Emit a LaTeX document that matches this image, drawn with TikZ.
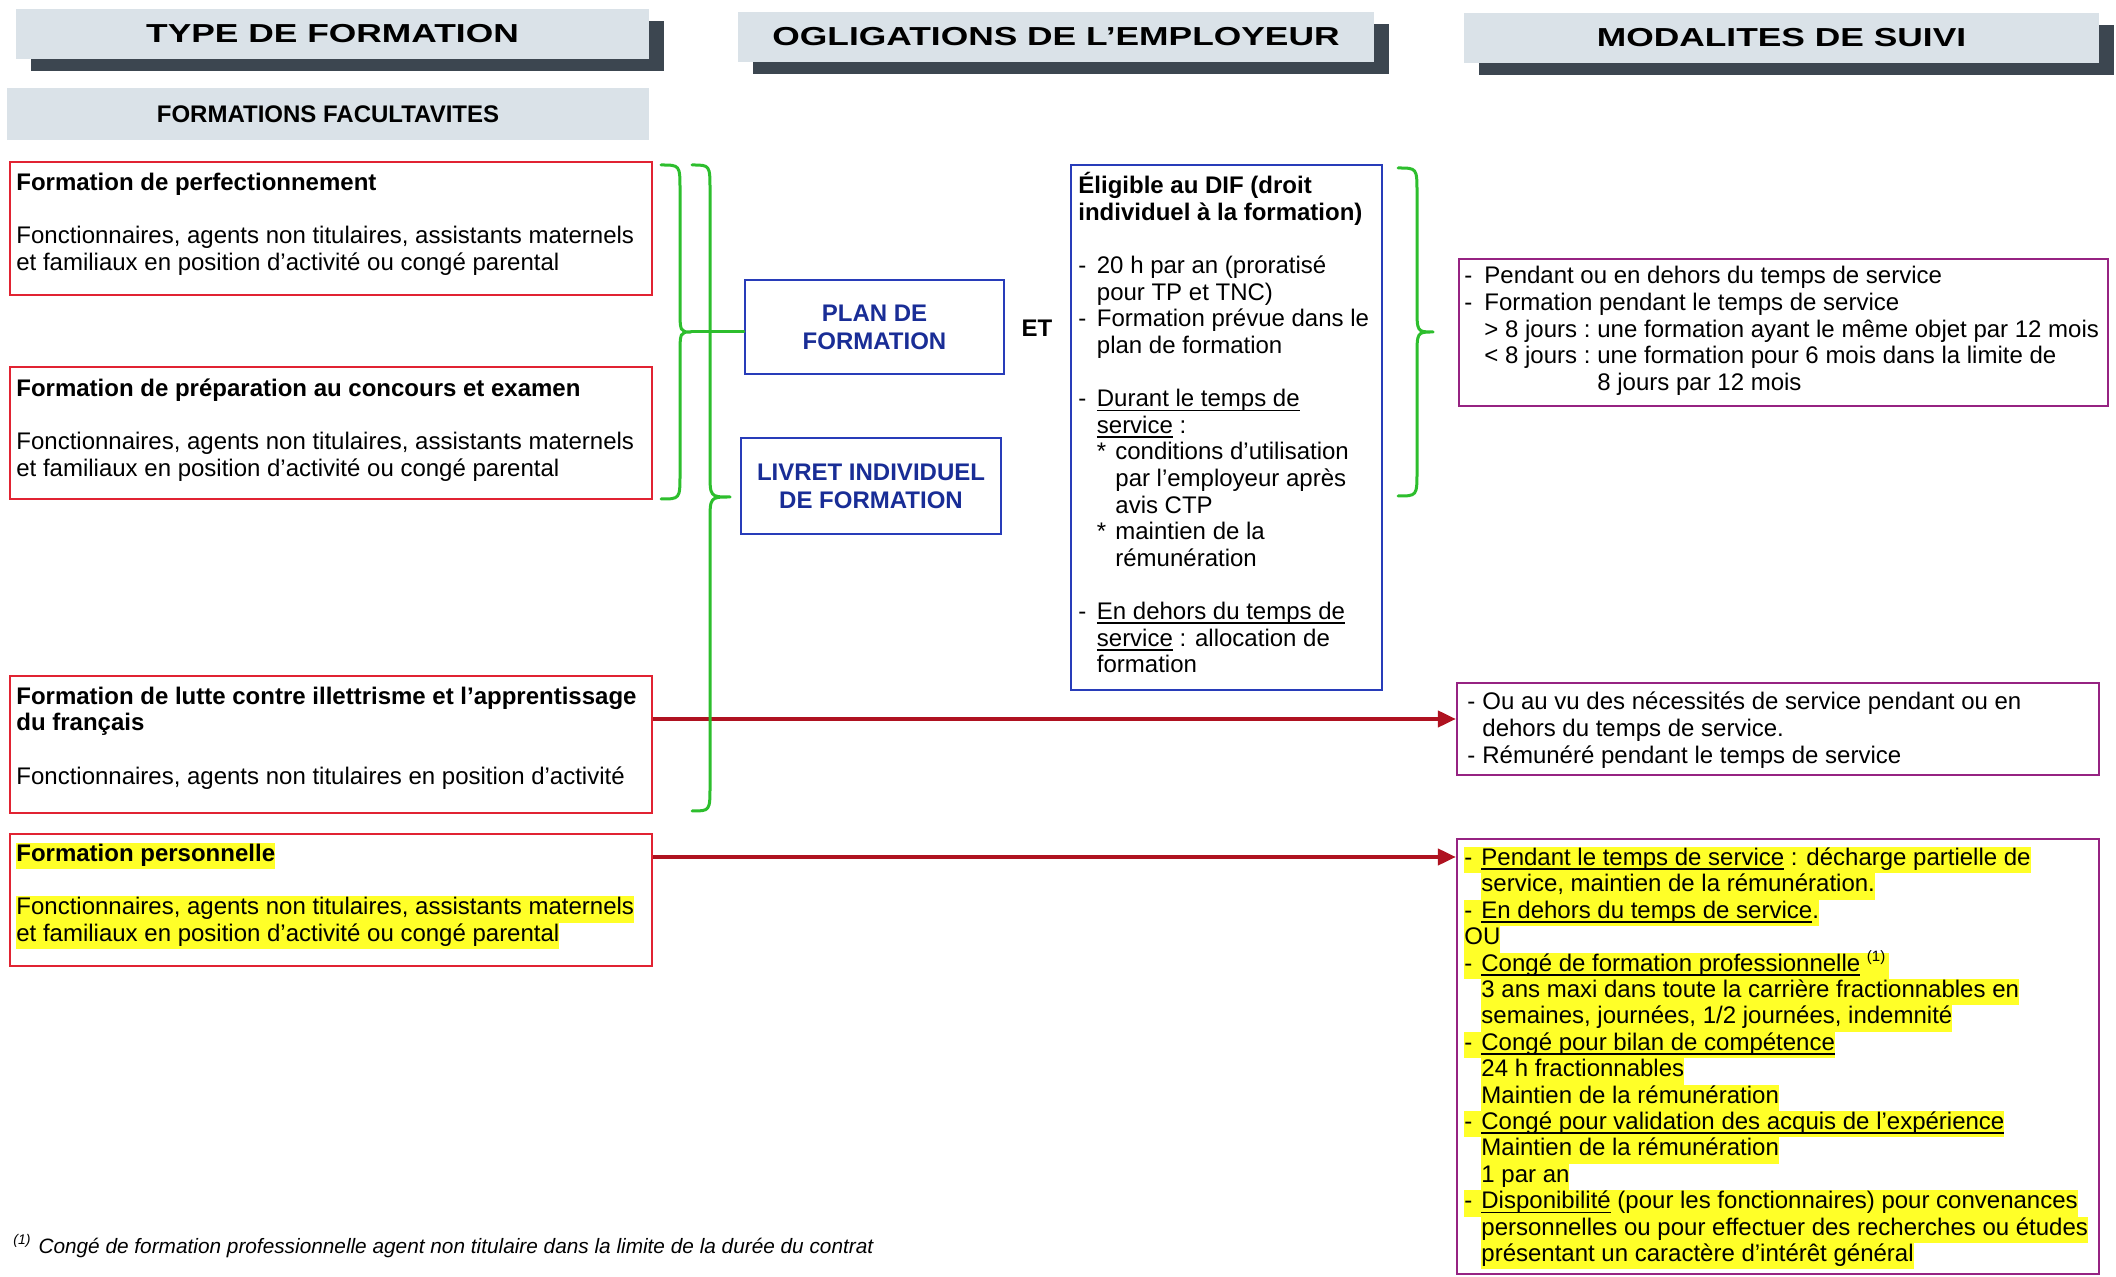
\documentclass[tikz,border=0pt]{standalone}
\usepackage{fontspec}
\setmainfont{Liberation Sans}
\newfontfamily\headfont[FakeStretch=1.36]{Liberation Sans}
\usetikzlibrary{arrows.meta,fit,shadows}
\definecolor{redc}{RGB}{225,35,50}
\definecolor{bluec}{RGB}{40,60,185}
\definecolor{purc}{RGB}{150,35,130}
\definecolor{greenc}{RGB}{45,190,45}
\definecolor{arrc}{RGB}{175,18,32}
\definecolor{btxt}{RGB}{25,45,150}
\definecolor{hdrc}{RGB}{218,226,232}
\definecolor{shadc}{RGB}{60,70,80}
\definecolor{hly}{RGB}{255,255,40}
\newsavebox{\ulbox}
\newcommand{\uln}[1]{\sbox{\ulbox}{#1}\rlap{\rule[-2.3pt]{\wd\ulbox}{0.8pt}}\usebox{\ulbox}}
\newcommand{\hlb}[1]{{\setlength{\fboxsep}{0pt}\colorbox{hly}{\strut#1}}}
\newcommand{\dsh}[1][9pt]{\makebox[#1][l]{-}}
\newcommand{\ind}[1][9pt]{\hspace*{#1}}
\newcommand{\tst}{\rule{0pt}{11pt}}
\newcommand{\supone}{\smash{\raisebox{5pt}{\fontsize{7.5}{8}\selectfont(1)}}}
\begin{document}
\begin{tikzpicture}[x=0.5pt,y=-0.5pt,
  boxr/.style={draw=redc, line width=1.1pt, inner sep=0pt},
  boxb/.style={draw=bluec, line width=1.1pt, inner sep=0pt},
  boxp/.style={draw=purc, line width=1.1pt, inner sep=0pt},
  hdr/.style={fill=hdrc, inner sep=0pt, drop shadow={shadow xshift=7.5pt,shadow yshift=-6pt,opacity=1,fill=shadc}},
  subhdr/.style={fill=hdrc, inner sep=0pt},
  hdrtxt/.style={font=\headfont\bfseries\fontsize{13}{15}\selectfont, inner sep=0pt},
  txt/.style={anchor=north west, inner sep=0pt, align=left, font=\fontsize{12}{13.3}\selectfont},
  bluetxt/.style={font=\bfseries\fontsize{12}{14}\selectfont, text=btxt, align=center, inner sep=0pt},
  gbrace/.style={draw=greenc, line width=1.5pt, line cap=round, line join=round},
  rarrow/.style={draw=arrc, line width=2pt, -{Triangle[length=9pt,width=8pt]}}
]
\fill[white] (0,0) rectangle (2116,1277);
\useasboundingbox (0,0) rectangle (2116,1277);

% headers
\node[hdr, fit={(16,9) (649,59)}] (h1) {};
\node[hdrtxt] (h1t) at (h1.center) {TYPE DE FORMATION};
\node[hdr, fit={(738,12) (1374,62)}] (h2) {};
\node[hdrtxt] (h2t) at (h2.center) {OGLIGATIONS DE L’EMPLOYEUR};
\node[hdr, fit={(1464,13) (2099,63)}] (h3) {};
\node[hdrtxt] (h3t) at (h3.center) {MODALITES DE SUIVI};
\node[subhdr, fit={(7,88) (649,140)}] (sub) {};
\node[font=\bfseries\fontsize{12}{14}\selectfont, inner sep=0pt] (subt) at (sub.center) {FORMATIONS FACULTAVITES};

% left boxes
\node[boxr, fit={(10,162) (652,295)}] (r1) {};
\node[boxr, fit={(10,367) (652,499)}] (r2) {};
\node[boxr, fit={(10,676) (652,813)}] (r3) {};
\node[boxr, fit={(10,834) (652,966)}] (r4) {};

\node[txt] (r1t) at (16,168) {\tst\textbf{Formation de perfectionnement}\\[13.3pt]
Fonctionnaires, agents non titulaires, assistants maternels\\
et familiaux en position d’activité ou congé parental};
\node[txt] (r2t) at (16,374) {\tst\textbf{Formation de préparation au concours et examen}\\[13.3pt]
Fonctionnaires, agents non titulaires, assistants maternels\\
et familiaux en position d’activité ou congé parental};
\node[txt] (r3t) at (16,682) {\tst\textbf{Formation de lutte contre illettrisme et l’apprentissage}\\
\textbf{du français}\\[13.3pt]
Fonctionnaires, agents non titulaires en position d’activité};
\node[txt] (r4t) at (16,839) {\tst\hlb{\textbf{Formation personnelle}}\\[13.3pt]
\hlb{Fonctionnaires, agents non titulaires, assistants maternels}\\
\hlb{et familiaux en position d’activité ou congé parental}};

% middle
\node[boxb, fit={(745,280) (1004,374)}] (plan) {};
\node[bluetxt] (plant) at (plan.center) {PLAN DE\\FORMATION};
\node[boxb, fit={(741,438) (1001,534)}] (livret) {};
\node[bluetxt] (livrett) at (livret.center) {LIVRET INDIVIDUEL\\DE FORMATION};
\node[font=\bfseries\fontsize{12}{14}\selectfont, inner sep=0pt] (et) at (1037,328) {ET};

\node[boxb, fit={(1071,165) (1382,690)}] (dif) {};
\node[txt] (dift) at (1078,171.5) {\tst\textbf{Éligible au DIF (droit}\\
\textbf{individuel à la formation)}\\[13.3pt]
\dsh[9.25pt]20 h par an (proratisé\\
\ind[9.25pt]pour TP et TNC)\\
\dsh[9.25pt]Formation prévue dans le\\
\ind[9.25pt]plan de formation\\[13.3pt]
\dsh[9.25pt]\uln{Durant le temps de}\\
\ind[9.25pt]\uln{service} :\\
\ind[9.25pt]\makebox[9.25pt][l]{*}conditions d’utilisation\\
\ind[18.5pt]par l’employeur après\\
\ind[18.5pt]avis CTP\\
\ind[9.25pt]\makebox[9.25pt][l]{*}maintien de la\\
\ind[18.5pt]rémunération\\[13.3pt]
\dsh[9.25pt]\uln{En dehors du temps de}\\
\ind[9.25pt]\uln{service} : allocation de\\
\ind[9.25pt]formation};

% right boxes
\node[boxp, fit={(1459,259) (2108,406)}] (p1) {};
\node[txt] (p1t) at (1464,261.5) {\tst\dsh[10pt]Pendant ou en dehors du temps de service\\
\dsh[10pt]Formation pendant le temps de service\\
\ind[10pt]\makebox[56.5pt][l]{> 8 jours :}une formation ayant le même objet par 12 mois\\
\ind[10pt]\makebox[56.5pt][l]{< 8 jours :}une formation pour 6 mois dans la limite de\\
\ind[66.5pt]8 jours par 12 mois};

\node[boxp, fit={(1457,683) (2099,775)}] (p2) {};
\node[txt] (p2t) at (1467,687.5) {\tst\dsh[7.5pt]Ou au vu des nécessités de service pendant ou en\\
\ind[7.5pt]dehors du temps de service.\\
\dsh[7.5pt]Rémunéré pendant le temps de service};

\node[boxp, fit={(1457,839) (2099,1274)}] (p3) {};
\node[txt, font=\fontsize{12}{13.2}\selectfont] (p3t) at (1464,843) {\tst\hlb{\dsh[8.5pt]\uln{Pendant le temps de service} : décharge partielle de}\\
\ind[8.5pt]\hlb{service, maintien de la rémunération.}\\
\hlb{\dsh[8.5pt]\uln{En dehors du temps de service}.}\\
\hlb{OU}\\
\hlb{\dsh[8.5pt]\uln{Congé de formation professionnelle} \supone\,}\\
\ind[8.5pt]\hlb{3 ans maxi dans toute la carrière fractionnables en}\\
\ind[8.5pt]\hlb{semaines, journées, 1/2 journées, indemnité}\\
\hlb{\dsh[8.5pt]\uln{Congé pour bilan de compétence}}\\
\ind[8.5pt]\hlb{24 h fractionnables}\\
\ind[8.5pt]\hlb{Maintien de la rémunération}\\
\hlb{\dsh[8.5pt]\uln{Congé pour validation des acquis de l’expérience}}\\
\ind[8.5pt]\hlb{Maintien de la rémunération}\\
\ind[8.5pt]\hlb{1 par an}\\
\hlb{\dsh[8.5pt]\uln{Disponibilité} (pour les fonctionnaires) pour convenances}\\
\ind[8.5pt]\hlb{personnelles ou pour effectuer des recherches ou études}\\
\ind[8.5pt]\hlb{présentant un caractère d’intérêt général}};

% red arrows
\coordinate (ar3) at (700,719);
\draw[rarrow] (r3.east |- ar3) -- (ar3 -| p2.west);
\coordinate (ar4) at (700,857);
\draw[rarrow] (r4.east |- ar4) -- (ar4 -| p3.west);

% green braces
\draw[gbrace] (661,165) .. controls (680,165) .. (680,190) -- (680,307) .. controls (680,332) .. (691,332) .. controls (680,332) .. (680,357) -- (680,474) .. controls (680,499) .. (661,499);
\draw[gbrace] (692,165) .. controls (710,165) .. (710,190) -- (710,472) .. controls (710,497) .. (730,497) .. controls (710,497) .. (710,522) -- (710,786) .. controls (710,811) .. (692,811);
\coordinate (bt1) at (691,332);
\draw[gbrace] (bt1) -- (bt1 -| plan.west);
\draw[gbrace] (1398,168) .. controls (1417,168) .. (1417,193) -- (1417,307) .. controls (1417,332) .. (1433,332) .. controls (1417,332) .. (1417,357) -- (1417,471) .. controls (1417,496) .. (1398,496);

% footnote
\node[anchor=base west, inner sep=0pt, font=\fontsize{10.4}{12}\selectfont\itshape] (fn) at (13,1253) {\raisebox{4.5pt}{\fontsize{7}{8}\selectfont(1)}\hspace{4pt}Congé de formation professionnelle agent non titulaire dans la limite de la durée du contrat};
\end{tikzpicture}
\end{document}
